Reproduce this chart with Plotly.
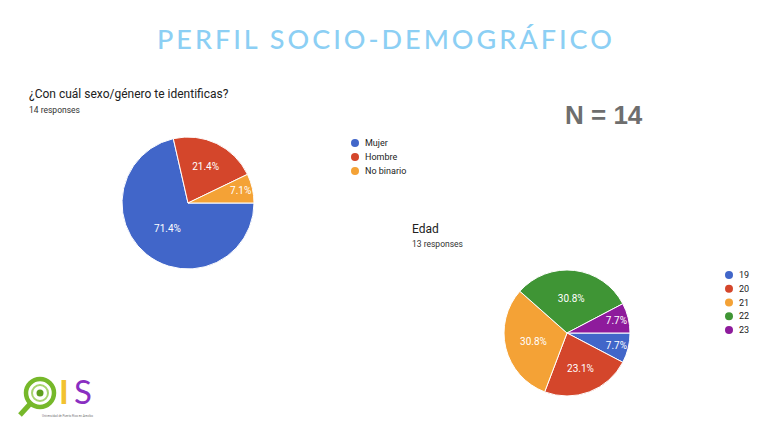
import plotly.graph_objects as go

W, H = 768, 432

# ---- data ----
sex_labels = ["Mujer", "Hombre", "No binario"]
sex_values = [10, 3, 1]
sex_colors = ["#4166c9", "#d4462b", "#f4a236"]

age_labels = ["19", "20", "21", "22", "23"]
age_values = [1, 3, 4, 4, 1]
age_colors = ["#4166c9", "#d4462b", "#f4a236", "#3f9535", "#8e1b9c"]

title_text = "PERFIL SOCIO-DEMOGRÁFICO"
q1_title = "¿Con cuál sexo/género te identificas?"
q1_sub = "14 responses"
q2_title = "Edad"
q2_sub = "13 responses"
n_text = "N = 14"
logo_sub = "Universidad de Puerto Rico en Arecibo"


def px(x):
    return x / W


def py(y):
    return 1 - y / H


def pie_domain(cx, cy, r):
    return dict(x=[px(cx - r), px(cx + r)], y=[py(cy + r), py(cy - r)])


fig = go.Figure()

fig.add_trace(go.Pie(
    labels=sex_labels, values=sex_values, sort=False, direction="clockwise",
    rotation=90, domain=pie_domain(188, 203, 66),
    marker=dict(colors=sex_colors, line=dict(color="white", width=1)),
    textinfo="percent", texttemplate="%{percent:.1%}", textposition="inside",
    insidetextorientation="horizontal",
    insidetextfont=dict(color="white", size=10, family="Roboto"),
    showlegend=False, hoverinfo="label+percent",
))

fig.add_trace(go.Pie(
    labels=age_labels, values=age_values, sort=False, direction="clockwise",
    rotation=90, domain=pie_domain(567, 333, 63),
    marker=dict(colors=age_colors, line=dict(color="white", width=1)),
    textinfo="percent", texttemplate="%{percent:.1%}", textposition="inside",
    insidetextorientation="horizontal",
    insidetextfont=dict(color="white", size=10, family="Roboto"),
    showlegend=False, hoverinfo="label+percent",
))

annotations = []
shapes = []


def text(x, y, s, size, color="#222222", family="Roboto", anchor="left", bold=False):
    annotations.append(dict(
        x=px(x), y=py(y), xref="paper", yref="paper", text=("<b>%s</b>" % s) if bold else s,
        showarrow=False, xanchor=anchor, yanchor="middle",
        font=dict(size=size, color=color, family=family),
    ))


text(384, 38, title_text, 27, color="#8ccff4", family="Lato", anchor="center")
text(27, 94, q1_title, 12, color="#212121")
text(27, 110, q1_sub, 8.5, color="#333333")
text(604, 115, n_text, 26, color="#6e6e6e", family="Liberation Sans", anchor="center", bold=True)
text(410, 229, q2_title, 12, color="#212121")
text(410, 244, q2_sub, 8.5, color="#333333")


def legend(x, y0, step, labels, colors):
    for i, (lab, col) in enumerate(zip(labels, colors)):
        cy = y0 + i * step
        r = 4
        shapes.append(dict(type="circle", xref="paper", yref="paper",
                           x0=px(x - r), x1=px(x + r), y0=py(cy + r), y1=py(cy - r),
                           fillcolor=col, line=dict(width=0)))
        text(x + 8, cy, lab, 9, color="#222222")


legend(355, 143, 14, sex_labels, sex_colors)
legend(729, 275, 13.75, age_labels, age_colors)

# ---- logo (approximation) ----
lc = (40, 393)
for rr, col, w in [(14, "#76b82a", 4.5), (8, "#a8d46f", 2)]:
    shapes.append(dict(type="circle", xref="paper", yref="paper",
                       x0=px(lc[0] - rr), x1=px(lc[0] + rr), y0=py(lc[1] + rr), y1=py(lc[1] - rr),
                       line=dict(color=col, width=w)))
shapes.append(dict(type="circle", xref="paper", yref="paper",
                   x0=px(lc[0] - 3.5), x1=px(lc[0] + 3.5), y0=py(lc[1] + 3.5), y1=py(lc[1] - 3.5),
                   fillcolor="#5f9e1e", line=dict(width=0)))
shapes.append(dict(type="line", xref="paper", yref="paper",
                   x0=px(30), y0=py(404), x1=px(20), y1=py(415),
                   line=dict(color="#76b82a", width=5)))
text(64, 391, "I", 33, color="#f2c230", family="Lato", anchor="center", bold=True)
text(83, 391, "S", 33, color="#8a2fc1", family="Lato", anchor="center")
text(67, 416, logo_sub, 3, color="#777777", anchor="center")

fig.update_layout(
    width=W, height=H, margin=dict(l=0, r=0, t=0, b=0),
    paper_bgcolor="white", plot_bgcolor="white",
    annotations=annotations, shapes=shapes, showlegend=False,
)

# widen the title's letter spacing so it spans the same width as the reference
post = """
var gd = document.getElementById('{plot_id}');
var target = 454;
gd.querySelectorAll('.annotation-text').forEach(function(t){
  if (t.textContent === %r) {
    var w = t.getBBox().width;
    var n = t.textContent.length;
    var sp = (target - w) / (n - 1);
    t.style.letterSpacing = sp + 'px';
    t.style.fontWeight = '500';
    var tr = t.getAttribute('x');
    t.setAttribute('x', parseFloat(tr) + sp / 2);
  }
});
""" % title_text

fig.write_html("out.html", post_script=post)
